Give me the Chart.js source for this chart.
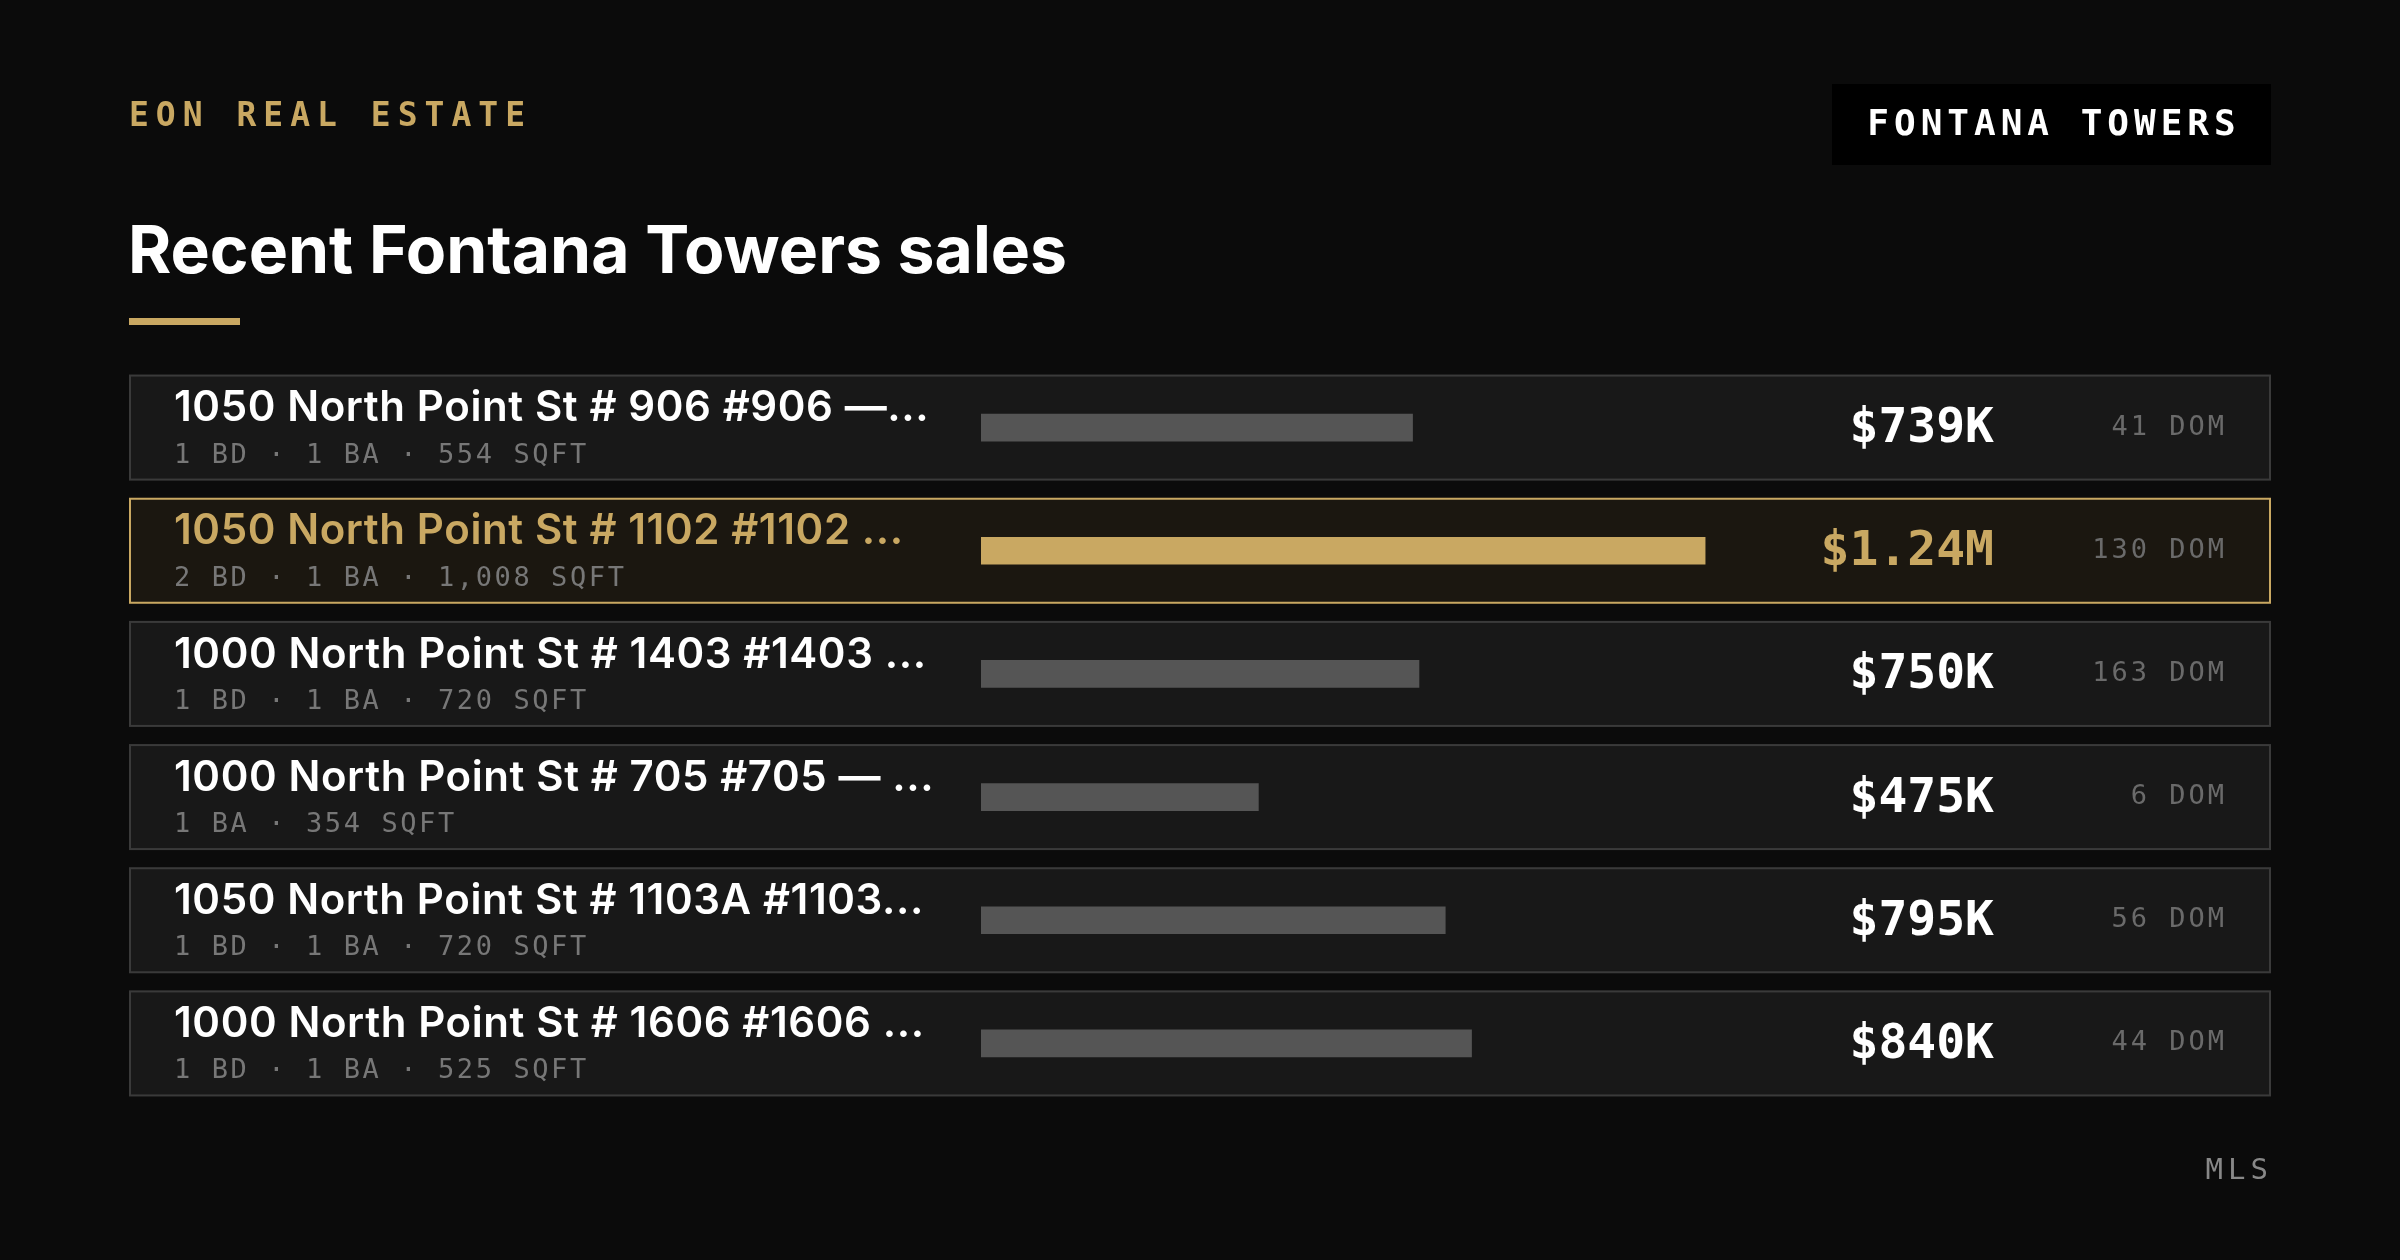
<!DOCTYPE html>
<html><head><meta charset="utf-8">
<script src="https://cdn.jsdelivr.net/npm/chart.js@4"></script>
<style>html,body{margin:0;background:#0b0b0b;}#w{width:2400px;height:1260px;position:relative}</style>
</head><body><div id="w"><canvas id="c"></canvas></div>
<script>
const addresses=["1050 North Point St # 906 #906 —...","1050 North Point St # 1102 #1102 ...","1000 North Point St # 1403 #1403 ...","1000 North Point St # 705 #705 — ...","1050 North Point St # 1103A #1103...","1000 North Point St # 1606 #1606 ..."];
const details=["1 BD · 1 BA · 554 SQFT","2 BD · 1 BA · 1,008 SQFT","1 BD · 1 BA · 720 SQFT","1 BA · 354 SQFT","1 BD · 1 BA · 720 SQFT","1 BD · 1 BA · 525 SQFT"];
const prices=[739,1240,750,475,795,840];
const priceLabels=["$739K","$1.24M","$750K","$475K","$795K","$840K"];
const dom=[41,130,163,6,56,44];
const highlight=1;
const GOLD="#c9a862";
const MONO="'DejaVu Sans Mono', monospace";
const SANS="Inter, 'Noto Sans', sans-serif";
Chart.defaults.devicePixelRatio=1;
const deco={id:'deco',
beforeDatasetsDraw(ch){const c=ch.ctx,y=ch.scales.y;
 c.save();
 c.fillStyle=GOLD;c.font="600 33px "+MONO;c.letterSpacing="7px";c.textBaseline="middle";c.textAlign="left";
 c.fillText("EON REAL ESTATE",129,117);
 c.fillStyle="#000";c.fillRect(1832,84,439,81);
 c.fillStyle="#fff";c.font="bold 36px "+MONO;c.letterSpacing="5px";c.textAlign="center";
 c.fillText("FONTANA TOWERS",2054,126);
 c.letterSpacing="0px";c.textAlign="left";c.font="bold 66px "+SANS;
 c.fillText("Recent Fontana Towers sales",128,253);
 c.fillStyle=GOLD;c.fillRect(129,318,111,7);
 addresses.forEach((a,i)=>{const cy=y.getPixelForValue(i);const top=cy-53;
  const h=i===highlight;
  c.fillStyle=h?"#1b1710":"#181818";c.fillRect(129,top,2142,106);
  c.strokeStyle=h?GOLD:"#3a3a3a";c.lineWidth=2;c.strokeRect(130,top+1,2140,104);
 });
 c.restore();},
afterDatasetsDraw(ch){const c=ch.ctx,y=ch.scales.y;c.save();c.textBaseline="middle";
 addresses.forEach((a,i)=>{const cy=y.getPixelForValue(i);const top=cy-53;const h=i===highlight;
  c.letterSpacing="0.6px";c.textAlign="left";c.fillStyle=h?GOLD:"#fff";c.font="600 42px "+SANS;
  c.fillText(a,174,top+34);
  c.fillStyle="#777";c.font="27px "+MONO;c.letterSpacing="2.6px";c.fillText(details[i],174,top+81);
  c.textAlign="right";c.letterSpacing="0px";c.font="bold 48px "+MONO;c.fillStyle=h?GOLD:"#fff";
  c.fillText(priceLabels[i],1994,cy+2);
  c.font="27px "+MONO;c.letterSpacing="3px";c.fillStyle="#6a6a6a";c.fillText(dom[i]+" DOM",2227,cy);
 });
 c.fillStyle="#888";c.font="29px "+MONO;c.letterSpacing="5px";c.textAlign="right";c.fillText("MLS",2273,1171);
 c.restore();}};
new Chart(document.getElementById('c'),{type:'bar',
 data:{labels:addresses,datasets:[{data:prices,backgroundColor:prices.map((v,i)=>i===highlight?GOLD:"#555555"),barThickness:27,borderWidth:0}]},
 options:{indexAxis:'y',responsive:true,maintainAspectRatio:false,animation:false,
  layout:{padding:{left:981,right:129,top:366,bottom:155}},
  plugins:{legend:{display:false},tooltip:{enabled:false}},
  scales:{x:{min:0,max:2209,display:false},y:{display:false}}},
 plugins:[deco]});
</script></body></html>
